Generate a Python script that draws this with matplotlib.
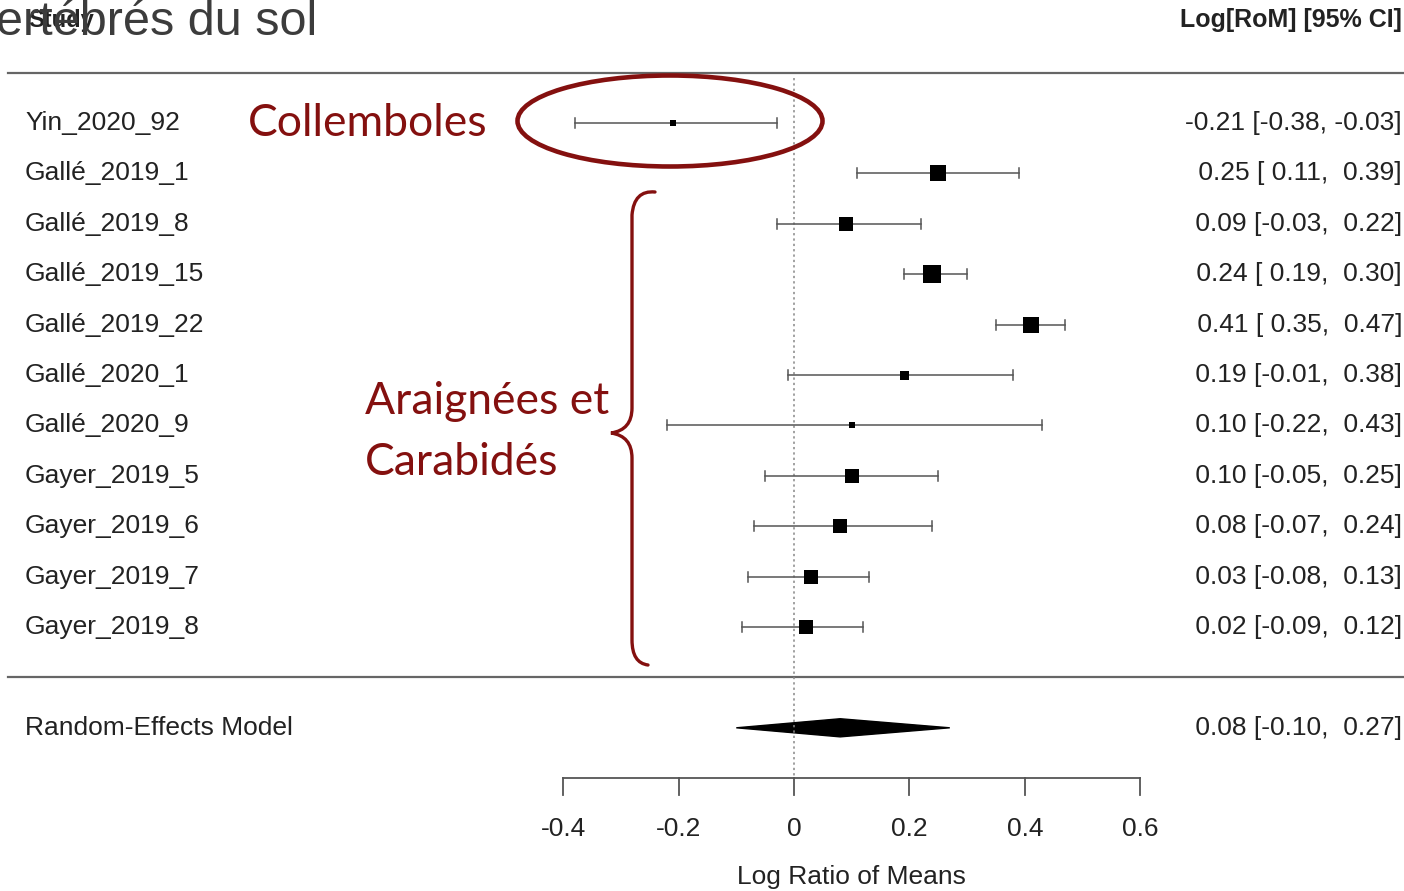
import numpy as np
import matplotlib
matplotlib.use("Agg")
import matplotlib.pyplot as plt
from matplotlib.patches import Ellipse, Polygon, PathPatch
from matplotlib.path import Path

plt.rcParams['font.family'] = ['Liberation Sans', 'DejaVu Sans']

# données de la méta-analyse
studies = ['Yin_2020_92', 'Gallé_2019_1', 'Gallé_2019_8', 'Gallé_2019_15', 'Gallé_2019_22',
           'Gallé_2020_1', 'Gallé_2020_9', 'Gayer_2019_5', 'Gayer_2019_6', 'Gayer_2019_7',
           'Gayer_2019_8']
est = [-0.21, 0.25, 0.09, 0.24, 0.41, 0.19, 0.10, 0.10, 0.08, 0.03, 0.02]
ci_lo = [-0.38, 0.11, -0.03, 0.19, 0.35, -0.01, -0.22, -0.05, -0.07, -0.08, -0.09]
ci_hi = [-0.03, 0.39, 0.22, 0.30, 0.47, 0.38, 0.43, 0.25, 0.24, 0.13, 0.12]
weights = [2.2, 12.3, 10.8, 15.6, 13.9, 3.9, 1.6, 9.4, 9.4, 10.8, 10.8]

re_label = 'Random-Effects Model'
re_est, re_lo, re_hi = 0.08, -0.10, 0.27

xticks = [-0.4, -0.2, 0, 0.2, 0.4, 0.6]
xtick_labels = ['-0.4', '-0.2', '0', '0.2', '0.4', '0.6']

W, H = 1404, 891
fig = plt.figure(figsize=(W / 100, H / 100), dpi=100)
ax = fig.add_axes([0, 0, 1, 1])
ax.set_xlim((0 - 794) / 577, (W - 794) / 577)
ax.set_ylim(1 + (H - 123) / 50.4, 1 - 123 / 50.4)
ax.axis('off')

txt_col = '#222222'
line_col = '#555555'
fs = 19
ytr = ax.get_yaxis_transform()  # x en fraction d'axes, y en données

rows = np.arange(1, len(studies) + 1)
re_row = len(studies) + 2
axis_row = re_row + 1

# lignes de séparation
ax.plot([8 / W, 1.0], [0, 0], color='#666666', lw=1.6, transform=ytr, clip_on=False)
ax.plot([8 / W, 1.0], [len(studies) + 1, len(studies) + 1], color='#666666', lw=1.6,
        transform=ytr, clip_on=False)

# ligne verticale à 0
ax.plot([0, 0], [0.1, axis_row], color='#888888', lw=1.1, ls=(0, (1.5, 2)))

# intervalles et carrés
for r, e, lo, hi, w in zip(rows, est, ci_lo, ci_hi, weights):
    ax.plot([lo, hi], [r, r], color=line_col, lw=1.1)
    ax.plot([lo, lo], [r - 0.1, r + 0.1], color=line_col, lw=1.1)
    ax.plot([hi, hi], [r - 0.1, r + 0.1], color=line_col, lw=1.1)
    size_px = np.sqrt(w / 15.6) * 18
    ax.plot(e, r, marker='s', color='black', markersize=size_px * 0.72, mec='black', mew=0)

# losange du modèle
diamond = Polygon([[re_lo, re_row], [re_est, re_row - 0.18], [re_hi, re_row],
                   [re_est, re_row + 0.18]], closed=True, color='black')
ax.add_patch(diamond)

# textes à gauche et à droite
for r, s, e, lo, hi in zip(rows, studies, est, ci_lo, ci_hi):
    ax.text(25 / W, r, s, transform=ytr, fontsize=fs, color=txt_col, va='center', ha='left')
    ax.text(1402 / W, r, f"{e:5.2f} [{lo:5.2f}, {hi:5.2f}]", transform=ytr, fontsize=fs,
            color=txt_col, va='center', ha='right')
ax.text(25 / W, re_row, re_label, transform=ytr, fontsize=fs, color=txt_col, va='center')
ax.text(1402 / W, re_row, f"{re_est:5.2f} [{re_lo:5.2f}, {re_hi:5.2f}]", transform=ytr,
        fontsize=fs, color=txt_col, va='center', ha='right')

# en-têtes
ax.text(28 / W, -1.04, 'Study', transform=ytr, fontsize=17, fontweight='bold',
        color=txt_col, va='center')
ax.text(1402 / W, -1.04, 'Log[RoM] [95% CI]', transform=ytr, fontsize=fs - 1,
        fontweight='bold', color=txt_col, va='center', ha='right')

# axe x dessiné à la main (style R)
ax.plot([xticks[0], xticks[-1]], [axis_row, axis_row], color=line_col, lw=1.3)
for t, lab in zip(xticks, xtick_labels):
    ax.plot([t, t], [axis_row, axis_row + 0.34], color=line_col, lw=1.3)
    ax.text(t, axis_row + 1.0, lab, fontsize=fs, color=txt_col, ha='center', va='center')
ax.text(0.1, axis_row + 1.97, 'Log Ratio of Means', fontsize=fs, color=txt_col,
        ha='center', va='center')

# annotations en rouge
red = '#84100f'
fig.text(248 / W, 1 - 124 / H, 'Collemboles', fontsize=32, color=red, family='Lato',
         va='center', ha='left')
fig.text(365 / W, 1 - 402 / H, 'Araignées et', fontsize=32, color=red, family='Lato',
         va='center', ha='left')
fig.text(365 / W, 1 - 463 / H, 'Carabidés', fontsize=32, color=red, family='Lato',
         va='center', ha='left')

ell = Ellipse((670 / W, 1 - 121 / H), 305 / W, 91 / H, transform=fig.transFigure,
              fill=False, edgecolor=red, lw=3.3)
fig.add_artist(ell)

# accolade
pts_px = [(655, 192), (634, 190), (632, 215),
          (632, 408),
          (632, 430), (611, 433),
          (632, 436), (632, 458),
          (632, 640),
          (632, 663), (648, 665)]
codes = [Path.MOVETO, Path.CURVE3, Path.CURVE3, Path.LINETO, Path.CURVE3, Path.CURVE3,
         Path.CURVE3, Path.CURVE3, Path.LINETO, Path.CURVE3, Path.CURVE3]
verts = [(x / W, 1 - y / H) for x, y in pts_px]
brace = PathPatch(Path(verts, codes), transform=fig.transFigure, fill=False,
                  edgecolor=red, lw=2.4, capstyle='round')
fig.add_artist(brace)

# titre tronqué qui chevauche l'en-tête (comme sur l'original)
fig.text(317 / W, 1 - 35 / H, 'Invertébrés du sol', fontsize=35, color='#3c3c3c',
         ha='right', va='baseline')

fig.savefig('out.png', dpi=100)
